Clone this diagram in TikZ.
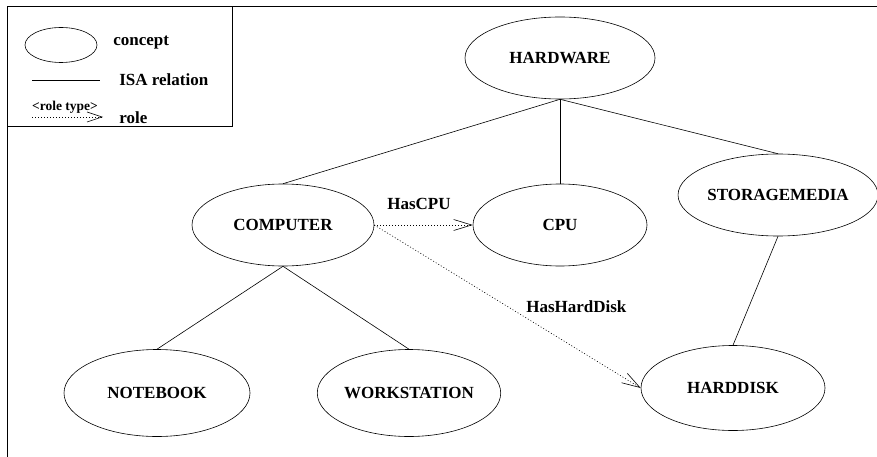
\documentclass[tikz,border=0pt]{standalone}
\usepackage{fontspec}
\setmainfont{Liberation Serif}
\usetikzlibrary{arrows.meta,shapes.geometric}

\begin{document}
\begin{tikzpicture}[x=1pt, y=-1pt, line width=0.6pt,
  font=\fontsize{17}{20}\selectfont\bfseries,
  cn/.style={draw, ellipse, inner sep=0pt, minimum width=184pt, minimum height=82pt},
  isa/.style={draw},
  role/.style={draw, dash pattern=on 1pt off 2pt, -{Straight Barb[length=18pt, width=11pt]}},
  lbl/.style={inner sep=1pt}]
  \useasboundingbox (0,0) rectangle (877,457);
  % frame and legend
  \draw (7,457) -- (7,6) -- (877,6);
  \draw (7,6) rectangle (232,126);
  \node[draw, ellipse, inner sep=0pt, minimum width=72pt, minimum height=35pt] (lcn) at (61,45) {};
  \node[lbl, anchor=west] (lcntxt) at (112,43) {concept};
  \coordinate (lisa1) at (32,80);
  \coordinate (lisa2) at (100,80);
  \draw (lisa1) -- (lisa2);
  \node[lbl, anchor=west] (lisatxt) at (118,80) {ISA relation};
  \node[lbl, font=\fontsize{13.5}{15}\selectfont\bfseries] (lroletype) at (65,107) {<role type>};
  \coordinate (lrole1) at (32,117);
  \coordinate (lrole2) at (103,117);
  \draw[role, -{Straight Barb[length=15pt, width=10pt]}] (lrole1) -- (lrole2);
  \node[lbl, anchor=west] (lroletxt) at (118,118) {role};
  % concepts
  \node[cn, minimum width=190pt] (hw) at (560,58) {HARDWARE};
  \node[cn, minimum width=182pt] (comp) at (283,225) {COMPUTER};
  \node[cn, minimum width=174pt] (cpu) at (560,225) {CPU};
  \node[cn, minimum width=184pt] (stor) at (778,195) {STORAGEMEDIA};
  \node[cn, minimum width=186pt, minimum height=87pt] (nb) at (157,393) {NOTEBOOK};
  \node[cn, minimum width=182pt, minimum height=87pt] (ws) at (409,393) {WORKSTATION};
  \node[cn, minimum width=184pt, minimum height=85pt] (hd) at (733,388) {HARDDISK};
  % ISA relations
  \draw[isa] (hw.south) -- (comp.north);
  \draw[isa] (hw.south) -- (cpu.north);
  \draw[isa] (hw.south) -- (stor.north);
  \draw[isa] (comp.south) -- (nb.north);
  \draw[isa] (comp.south) -- (ws.north);
  \draw[isa] (stor.south) -- (hd.north);
  % roles
  \draw[role] (comp.east) -- (cpu.west);
  \draw[role] (comp.east) -- (hd.west);
  \node[lbl] (hascpu) at (419,204) {HasCPU};
  \node[lbl, anchor=west] (hashd) at (525,307) {HasHardDisk};
\end{tikzpicture}
\end{document}
